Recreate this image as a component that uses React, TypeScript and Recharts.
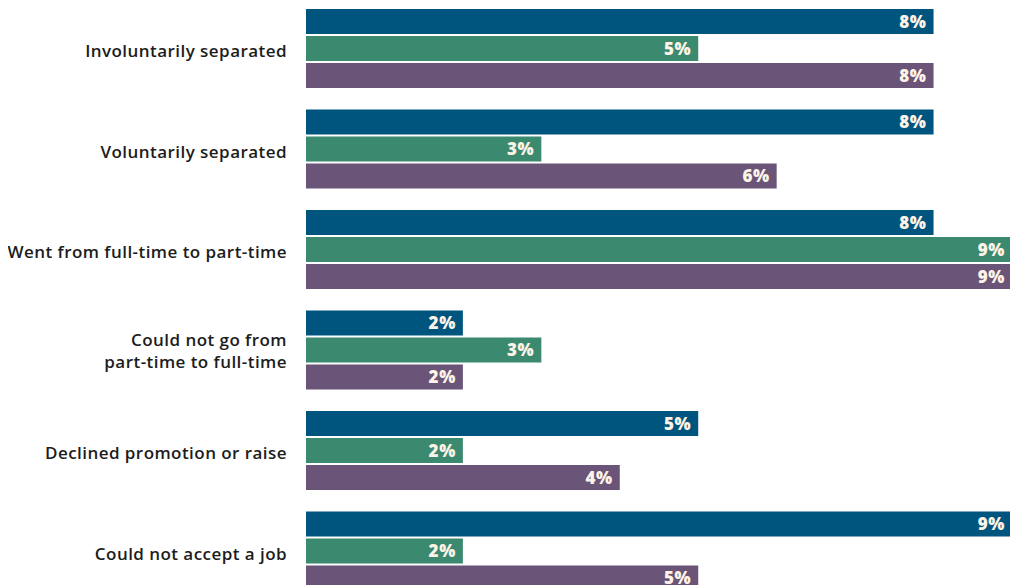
import React from "react";
import { BarChart, Bar, XAxis, YAxis, LabelList } from "recharts";

const categories = [
  "Involuntarily separated",
  "Voluntarily separated",
  "Went from full-time to part-time",
  "Could not go from\npart-time to full-time",
  "Declined promotion or raise",
  "Could not accept a job",
];
const seriesA = [8, 8, 8, 2, 5, 9];
const seriesB = [5, 3, 9, 3, 2, 2];
const seriesC = [8, 6, 9, 2, 4, 5];

const data = categories.map((c, i) => ({ cat: c, a: seriesA[i], b: seriesB[i], c: seriesC[i] }));

const FONT = "'Open Sans', Lato, sans-serif";

const Tick = (props: any) => {
  const { x, y, payload } = props;
  const lines = String(payload.value).split("\n");
  const lh = 22;
  const start = y - ((lines.length - 1) * lh) / 2 + (lines.length === 1 ? 2 : 0);
  return (
    <text x={x - 11} y={start} textAnchor="end" fill="#1c1c1c" fontFamily={FONT} fontWeight={600} fontSize={17} letterSpacing={0.45} dominantBaseline="central">
      {lines.map((l, i) => (
        <tspan key={i} x={x - 11} y={start + i * lh}>{l}</tspan>
      ))}
    </text>
  );
};

const labelStyle = { fill: "#fdf3e6", fontFamily: FONT, fontWeight: 800, fontSize: 17, letterSpacing: 0.6 };

export default function App() {
  return (
    <div style={{ position: "absolute", left: 0, top: 0, width: 1010, height: 585, overflow: "hidden" }}>
      <div style={{ position: "absolute", left: 8, top: -2 }}>
        <BarChart
          width={1004}
          height={603}
          data={data}
          layout="vertical"
          margin={{ top: 0, right: 0, bottom: 0, left: 0 }}
          barSize={25}
          barGap={2}
        >
          <XAxis type="number" domain={[0, 9]} hide />
          <YAxis type="category" dataKey="cat" width={298} axisLine={false} tickLine={false} tick={<Tick />} interval={0} />
          <Bar dataKey="a" fill="#00557f" isAnimationActive={false}>
            <LabelList dataKey="a" position="insideRight" offset={7} formatter={(v: any) => `${v}%`} style={labelStyle} />
          </Bar>
          <Bar dataKey="b" fill="#3b8a6f" isAnimationActive={false}>
            <LabelList dataKey="b" position="insideRight" offset={7} formatter={(v: any) => `${v}%`} style={labelStyle} />
          </Bar>
          <Bar dataKey="c" fill="#6a5477" isAnimationActive={false}>
            <LabelList dataKey="c" position="insideRight" offset={7} formatter={(v: any) => `${v}%`} style={labelStyle} />
          </Bar>
        </BarChart>
      </div>
    </div>
  );
}
